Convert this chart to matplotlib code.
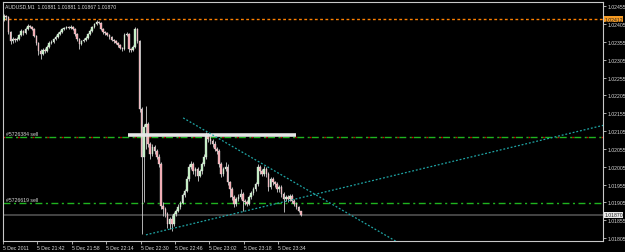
import numpy as np
import matplotlib
matplotlib.use("Agg")
import matplotlib.pyplot as plt
from matplotlib import font_manager
import matplotlib.transforms as mtransforms

# AUDUSD M1 bars, 5 Dec 2011 21:26 onwards
first_open = 1.02417
closes = [1.02428, 1.02425, 1.02383, 1.02358, 1.02363, 1.02360, 1.02363, 1.02375, 1.02386, 1.02380,
          1.02391, 1.02400, 1.02397, 1.02391, 1.02372, 1.02352, 1.02330, 1.02321, 1.02332, 1.02330,
          1.02341, 1.02352, 1.02355, 1.02363, 1.02369, 1.02377, 1.02383, 1.02391, 1.02394, 1.02397,
          1.02394, 1.02397, 1.02391, 1.02377, 1.02363, 1.02349, 1.02358, 1.02360, 1.02366, 1.02377,
          1.02386, 1.02397, 1.02405, 1.02411, 1.02408, 1.02391, 1.02383, 1.02380, 1.02375, 1.02369,
          1.02360, 1.02358, 1.02352, 1.02346, 1.02338, 1.02335, 1.02375, 1.02377, 1.02335, 1.02332,
          1.02341, 1.02391, 1.02358, 1.02167, 1.02032, 1.02116, 1.02125, 1.02069, 1.02041, 1.02060,
          1.02049, 1.02032, 1.02013, 1.01895, 1.01886, 1.01872, 1.01844, 1.01858, 1.01844, 1.01872,
          1.01881, 1.01892, 1.01903, 1.01926, 1.01937, 1.01971, 1.02004, 1.02013, 1.01993, 1.01999,
          1.01979, 1.01993, 1.02013, 1.02032, 1.02091, 1.02083, 1.02077, 1.02069, 1.02055, 1.02049,
          1.02013, 1.01985, 1.01999, 1.02004, 1.01962, 1.01943, 1.01920, 1.01901, 1.01915, 1.01920,
          1.01929, 1.01909, 1.01906, 1.01901, 1.01920, 1.01931, 1.01943, 1.01957, 1.02004, 1.01993,
          1.01985, 1.01999, 1.01985, 1.01948, 1.01971, 1.01962, 1.01957, 1.01943, 1.01948, 1.01929,
          1.01915, 1.01920, 1.01915, 1.01923, 1.01909, 1.01901, 1.01892, 1.01881, 1.01870]
highs = [1.02433, 1.02431, 1.02428, 1.02386, 1.02369, 1.02366, 1.02369, 1.02377, 1.02391, 1.02389,
         1.02397, 1.02405, 1.02403, 1.02400, 1.02394, 1.02375, 1.02355, 1.02335, 1.02338, 1.02338,
         1.02346, 1.02358, 1.02360, 1.02366, 1.02375, 1.02383, 1.02389, 1.02394, 1.02397, 1.02400,
         1.02400, 1.02403, 1.02400, 1.02394, 1.02380, 1.02366, 1.02360, 1.02366, 1.02372, 1.02380,
         1.02391, 1.02400, 1.02408, 1.02417, 1.02414, 1.02411, 1.02394, 1.02386, 1.02383, 1.02377,
         1.02372, 1.02363, 1.02360, 1.02355, 1.02349, 1.02341, 1.02380, 1.02383, 1.02380, 1.02338,
         1.02346, 1.02397, 1.02394, 1.02360, 1.02172, 1.02125, 1.02175, 1.02130, 1.02074, 1.02069,
         1.02066, 1.02055, 1.02041, 1.02018, 1.01906, 1.01892, 1.01878, 1.01864, 1.01870, 1.01878,
         1.01886, 1.01901, 1.01909, 1.01931, 1.01943, 1.01979, 1.02013, 1.02021, 1.02018, 1.02004,
         1.02004, 1.01999, 1.02018, 1.02041, 1.02102, 1.02100, 1.02091, 1.02083, 1.02077, 1.02060,
         1.02055, 1.02018, 1.02004, 1.02018, 1.02013, 1.01965, 1.01948, 1.01926, 1.01920, 1.01929,
         1.01943, 1.01934, 1.01915, 1.01912, 1.01926, 1.01937, 1.01948, 1.01962, 1.02013, 1.02010,
         1.01999, 1.02007, 1.02004, 1.01990, 1.01976, 1.01976, 1.01965, 1.01962, 1.01954, 1.01954,
         1.01934, 1.01926, 1.01926, 1.01929, 1.01929, 1.01915, 1.01906, 1.01895, 1.01881]
lows = [1.02414, 1.02417, 1.02377, 1.02349, 1.02352, 1.02355, 1.02358, 1.02360, 1.02372, 1.02375,
        1.02377, 1.02389, 1.02394, 1.02389, 1.02369, 1.02346, 1.02318, 1.02307, 1.02318, 1.02324,
        1.02327, 1.02338, 1.02349, 1.02352, 1.02360, 1.02366, 1.02375, 1.02380, 1.02389, 1.02391,
        1.02391, 1.02391, 1.02389, 1.02372, 1.02358, 1.02335, 1.02346, 1.02355, 1.02358, 1.02363,
        1.02375, 1.02383, 1.02394, 1.02403, 1.02405, 1.02389, 1.02377, 1.02375, 1.02372, 1.02363,
        1.02358, 1.02352, 1.02349, 1.02341, 1.02335, 1.02330, 1.02332, 1.02372, 1.02327, 1.02327,
        1.02330, 1.02338, 1.02352, 1.02158, 1.01815, 1.01906, 1.02055, 1.02060, 1.02027, 1.02035,
        1.02041, 1.02027, 1.02004, 1.01886, 1.01867, 1.01864, 1.01833, 1.01830, 1.01825, 1.01839,
        1.01867, 1.01878, 1.01886, 1.01901, 1.01920, 1.01934, 1.01965, 1.01999, 1.01985, 1.01979,
        1.01965, 1.01976, 1.01985, 1.02007, 1.02027, 1.02074, 1.02069, 1.02060, 1.02049, 1.02041,
        1.02004, 1.01976, 1.01979, 1.01993, 1.01954, 1.01920, 1.01912, 1.01892, 1.01895, 1.01909,
        1.01915, 1.01881, 1.01898, 1.01895, 1.01898, 1.01915, 1.01926, 1.01937, 1.01951, 1.01985,
        1.01979, 1.01979, 1.01976, 1.01937, 1.01943, 1.01954, 1.01948, 1.01934, 1.01934, 1.01920,
        1.01878, 1.01909, 1.01906, 1.01909, 1.01903, 1.01895, 1.01886, 1.01878, 1.01867]

time_ticks = [0, 16, 32, 48, 64, 80, 96, 112, 128]
time_labels = ["5 Dec 2011", "5 Dec 21:42", "5 Dec 21:58", "5 Dec 22:14", "5 Dec 22:30",
               "5 Dec 22:46", "5 Dec 23:02", "5 Dec 23:18", "5 Dec 23:34"]
price_ticks = [1.02455, 1.02405, 1.02355, 1.02305, 1.02255, 1.02205, 1.02155,
               1.02105, 1.02055, 1.02005, 1.01955, 1.01905, 1.01855, 1.01805]

header = "AUDUSD,M1  1.01881 1.01881 1.01867 1.01870"
alert_label = "1.02412"
alert_level = 1.02419      # where the orange line sits on screen
bid_price = 1.01870
order1_price = 1.02088
order1_label = "#5726384 sell"
order2_price = 1.01903
order2_label = "#5726619 sell"
box_x = [57.7, 135.8]
box_price = 1.02094
up_line_x = [66, 280]
up_line_y = [1.01814, 1.02123]
down_line_x = [83.3, 190]
down_line_y = [1.02142, 1.01769]

# fonts
names = {f.name for f in font_manager.fontManager.ttflist}
if "Liberation Sans Narrow" in names:
    fam, fs = "Liberation Sans Narrow", 4.4
else:
    fam, fs = "Liberation Sans", 3.7
plt.rcParams["font.family"] = [fam, "DejaVu Sans"]

txt_col = "#d8d8d8"
frame_col = "#c8c8c8"
green = "#1fb41f"

fig = plt.figure(figsize=(6.25, 2.53), dpi=100, facecolor="black")
ax = fig.add_axes([3 / 625, 11 / 253, 600 / 625, 239 / 253], facecolor="black")

c = np.array(closes)
o = np.concatenate([[first_open], c[:-1]])
h = np.array(highs)
l = np.array(lows)
idx = np.arange(len(c))
up = c >= o

# wicks
ax.vlines(idx, l, h, color="#d0d0d0", linewidth=0.6, zorder=3)
# bodies
body_h = np.maximum(np.abs(c - o), 0.000015)
ax.bar(idx[up], body_h[up], bottom=np.minimum(o, c)[up], width=0.75,
       color="#bff0bf", edgecolor="#e8e8e8", linewidth=0.25, zorder=4)
ax.bar(idx[~up], body_h[~up], bottom=np.minimum(o, c)[~up], width=0.75,
       color="#f4a3ab", edgecolor="#e8e8e8", linewidth=0.25, zorder=4)

# horizontal lines
ax.axhline(alert_level, color="#ff8000", linestyle=(0, (2, 1.8)), linewidth=1.0, zorder=2)
ax.axhline(bid_price, color="#4a4a4a", linewidth=1.3, zorder=1)
ax.axhline(order1_price, color="#c80000", linestyle=(0, (1.2, 9.3)), linewidth=1.0, zorder=2)
ax.axhline(order1_price, color=green, linestyle=(-1.5, (5, 2.5, 1.5, 1.5)), linewidth=1.0, zorder=2)
ax.axhline(order2_price, color=green, linestyle=(0, (5, 2.5, 1.5, 2.5)), linewidth=1.0, zorder=2)
ax.plot(box_x, [box_price, box_price], color="#e6e6e6", linewidth=2.6,
        solid_capstyle="butt", zorder=5)

# trend lines
ax.plot(up_line_x, up_line_y, color="#1fa5a5", linestyle=(0, (1.5, 1.5)), linewidth=0.9, zorder=6)
ax.plot(down_line_x, down_line_y, color="#1fa5a5", linestyle=(0, (1.5, 1.5)), linewidth=0.9, zorder=6)

trans = mtransforms.blended_transform_factory(ax.transAxes, ax.transData)
ax.text(0.005, order1_price + 0.00004, order1_label, transform=trans, color=txt_col,
        fontsize=fs, va="bottom", ha="left")
ax.text(0.005, order2_price + 0.00004, order2_label, transform=trans, color=txt_col,
        fontsize=fs, va="bottom", ha="left")

ax.set_xlim(-0.465, 278.6)
ax.set_ylim(1.017967, 1.024671)

ax.yaxis.tick_right()
ax.set_yticks(price_ticks)
ax.set_yticklabels(["%.5f" % p for p in price_ticks])
ax.set_xticks([t - 0.5 for t in time_ticks])
ax.set_xticklabels(time_labels, ha="left")
ax.tick_params(axis="both", colors=frame_col, labelcolor=txt_col, labelsize=fs,
               length=2, width=0.6, pad=1)
for lab in ax.get_xticklabels():
    lab.set_horizontalalignment("left")
for sp in ax.spines.values():
    sp.set_color(frame_col)
    sp.set_linewidth(0.8)

# price boxes on the axis
ax.text(1.002, alert_level, alert_label, transform=trans, color="#202020",
        fontsize=fs, va="center", ha="left", zorder=10, clip_on=False,
        bbox=dict(boxstyle="square,pad=0.05", facecolor="#f59a23", edgecolor="none"))
ax.text(1.002, bid_price, "%.5f" % bid_price, transform=trans, color="#202020",
        fontsize=fs, va="center", ha="left", zorder=10, clip_on=False,
        bbox=dict(boxstyle="square,pad=0.1", facecolor="#e8e8e8", edgecolor="none"))

fig.text(5 / 625, 1 - 7 / 253, header, color=txt_col, fontsize=fs, va="center", ha="left")

fig.savefig("out.png", dpi=100, facecolor="black")
